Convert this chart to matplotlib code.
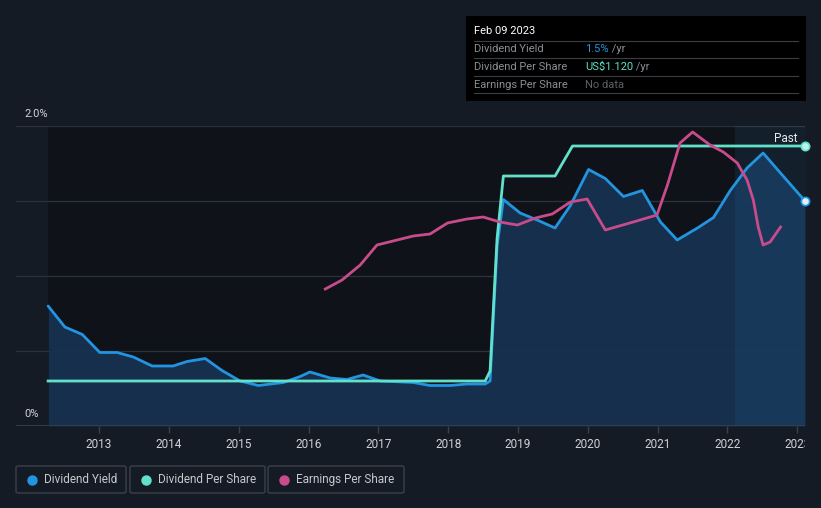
import matplotlib
matplotlib.use("Agg")
import matplotlib.pyplot as plt
from matplotlib.patches import Rectangle, FancyBboxPatch
from matplotlib.lines import Line2D

plt.rcParams['font.family'] = ['Roboto', 'DejaVu Sans']

# ---- data ----
dy_years = [2012.27, 2012.51, 2012.76, 2013.01, 2013.26, 2013.49, 2013.76, 2014.06, 2014.26,
            2014.52, 2014.76, 2015.02, 2015.28, 2015.64, 2015.88, 2016.02, 2016.31, 2016.55,
            2016.78, 2017.03, 2017.50, 2017.74, 2018.03, 2018.27, 2018.53, 2018.60, 2018.70,
            2018.79, 2019.03, 2019.29, 2019.53, 2019.75, 2020.01, 2020.25, 2020.51, 2020.78,
            2021.04, 2021.28, 2021.57, 2021.80, 2022.04, 2022.28, 2022.51, 2022.79, 2023.11]
dy_values = [0.80, 0.66, 0.61, 0.49, 0.49, 0.46, 0.40, 0.40, 0.43,
             0.45, 0.37, 0.30, 0.27, 0.29, 0.33, 0.36, 0.32, 0.31,
             0.34, 0.30, 0.29, 0.27, 0.27, 0.28, 0.28, 0.30, 1.20,
             1.51, 1.42, 1.37, 1.32, 1.47, 1.71, 1.65, 1.53, 1.57,
             1.36, 1.24, 1.32, 1.39, 1.57, 1.72, 1.82, 1.67, 1.50]

dps_years = [2012.27, 2018.53, 2018.60, 2018.70, 2018.79, 2019.53, 2019.78, 2023.11]
dps_values = [0.18, 0.18, 0.22, 0.75, 1.00, 1.00, 1.12, 1.12]

eps_years = [2016.24, 2016.48, 2016.74, 2016.98, 2017.21, 2017.50, 2017.74, 2017.99, 2018.27,
             2018.50, 2018.74, 2018.99, 2019.25, 2019.49, 2019.75, 2019.99, 2020.25, 2020.65,
             2020.99, 2021.14, 2021.32, 2021.50, 2021.75, 2021.94, 2022.14, 2022.28, 2022.37,
             2022.44, 2022.51, 2022.61, 2022.76]
eps_values = [1.37, 1.46, 1.61, 1.81, 1.85, 1.90, 1.92, 2.03, 2.07,
              2.09, 2.04, 2.01, 2.08, 2.12, 2.24, 2.27, 1.96, 2.04,
              2.11, 2.41, 2.83, 2.94, 2.81, 2.74, 2.63, 2.46, 2.26,
              1.99, 1.81, 1.84, 1.99]

year_ticks = [2013, 2014, 2015, 2016, 2017, 2018, 2019, 2020, 2021, 2022, 2023]
year_labels = ["2013", "2014", "2015", "2016", "2017", "2018", "2019", "2020", "2021", "2022", "2023"]
past_start = 2022.11

# ---- styling ----
BG = '#151b24'
PLOT_BG = '#0f1319'
BLUE = '#2394df'
TEAL = '#62e0c9'
PINK = '#c84b8c'
GRID = '#2c323b'
TXT = '#d0d3d8'

W, H = 821, 508
fig = plt.figure(figsize=(W / 100, H / 100), dpi=100, facecolor=BG)

def fx(px): return px / W
def fy(py): return 1 - py / H

ax = fig.add_axes([fx(16), fy(426), fx(805) - fx(16), fy(126) - fy(426)])
ax.set_facecolor(BG)
xmin, xmax = 2011.81, 2023.11
ax.set_xlim(xmin, xmax)
ax.set_ylim(0, 2.0)

ax.axvspan(dy_years[0], xmax, ymin=0, ymax=1, color=PLOT_BG, zorder=0, lw=0)

for v in [0.5, 1.0, 1.5, 2.0]:
    ax.axhline(v, color=GRID, lw=0.9, zorder=1)
ax.axhline(0, color='#3a414b', lw=1.2, zorder=5)

ax.fill_between(dy_years, dy_values, 0, color='#163150', alpha=0.95, lw=0, zorder=2)
ax.axvspan(past_start, xmax, color='#3a8fd0', alpha=0.10, lw=0, zorder=3)

ax.plot(dy_years, dy_values, color=BLUE, lw=2.0, zorder=6, solid_capstyle='round')

ax2 = ax.twinx()
ax2.set_ylim(0, 1.12 * 300 / 280)
ax2.plot(dps_years, dps_values, color=TEAL, lw=2.0, zorder=6)
ax2.plot([dps_years[-1]], [dps_values[-1]], 'o', ms=6, mfc='#bff3ea', mec=TEAL, mew=1.2, clip_on=False, zorder=8)

ax3 = ax.twinx()
ax3.set_ylim(0, 3.0)
ax3.plot(eps_years, eps_values, color=PINK, lw=2.0, zorder=6)

ax.plot([dy_years[-1]], [dy_values[-1]], 'o', ms=6, mfc='#dfefff', mec=BLUE, mew=1.2, clip_on=False, zorder=9)

for a in (ax2, ax3):
    a.set_yticks([])
    a.patch.set_visible(False)
    for s in a.spines.values():
        s.set_visible(False)

for s in ax.spines.values():
    s.set_visible(False)
ax.set_yticks([])
ax.set_xticks(year_ticks)
ax.set_xticklabels(year_labels, color=TXT, fontsize=8.5)
ax.tick_params(axis='x', length=5, width=1, color='#3a414b', pad=4)
for lbl in ax.get_xticklabels():
    lbl.set_clip_on(True)
    lbl.set_clip_box(fig.bbox)

# clip the last tick label at plot edge
from matplotlib.transforms import Bbox, TransformedBbox
clipbb = TransformedBbox(Bbox([[0, 0], [fx(805), 1]]), fig.transFigure)
for lbl in ax.get_xticklabels():
    lbl.set_clip_box(clipbb)
    lbl.set_clip_on(True)

fig.text(fx(24), fy(114), "2.0%", color=TXT, fontsize=8, va='center', ha='left')
fig.text(fx(24), fy(414), "0%", color=TXT, fontsize=8, va='center', ha='left')
fig.text(fx(797), fy(138), "Past", color='#e8eaed', fontsize=8.5, va='center', ha='right')

# ---- tooltip ----
fig.patches.append(Rectangle((fx(466), fy(101)), fx(806) - fx(466), fy(16) - fy(101),
                             transform=fig.transFigure, facecolor='#000000', edgecolor='none', zorder=10))
fig.text(fx(474), fy(31), "Feb 09 2023", color='#ffffff', fontsize=8, va='center', ha='left', zorder=11)
for yy in [41, 58, 76, 93]:
    fig.add_artist(Line2D([fx(474), fx(798)], [fy(yy), fy(yy)], color='#3a3f46', lw=0.8, zorder=11))
rows = [("Dividend Yield", "1.5%", BLUE, " /yr"),
        ("Dividend Per Share", "US$1.120", TEAL, " /yr"),
        ("Earnings Per Share", "No data", '#5c6168', "")]
for i, (lab, val, col, suf) in enumerate(rows):
    yy = fy(49 + i * 18)
    fig.text(fx(474), yy, lab, color='#8a8f96', fontsize=8, va='center', ha='left', zorder=11)
    t = fig.text(fx(585), yy, val, color=col, fontsize=8, va='center', ha='left', zorder=11)
    if suf:
        fig.canvas.draw()
        bb = t.get_window_extent()
        fig.text(bb.x1 / W, yy, suf, color='#8a8f96', fontsize=8, va='center', ha='left', zorder=11)

# ---- legend ----
legend_items = [("Dividend Yield", BLUE, 16, 126), ("Dividend Per Share", TEAL, 130, 265),
                ("Earnings Per Share", PINK, 268, 404)]
for lab, col, x0, x1 in legend_items:
    fig.patches.append(FancyBboxPatch((fx(x0), fy(493)), fx(x1) - fx(x0), fy(466) - fy(493),
                                      boxstyle="round,pad=0,rounding_size=0.003",
                                      transform=fig.transFigure, facecolor='none',
                                      edgecolor='#3a414b', lw=1.0))
    fig.add_artist(Line2D([fx(x0 + 16)], [fy(479.5)], marker='o', ms=6.5, color=col, lw=0))
    fig.text(fx(x0 + 28), fy(479.5), lab, color='#c5c8cd', fontsize=8.5, va='center', ha='left')

fig.savefig("out.png", dpi=100, facecolor=BG)
